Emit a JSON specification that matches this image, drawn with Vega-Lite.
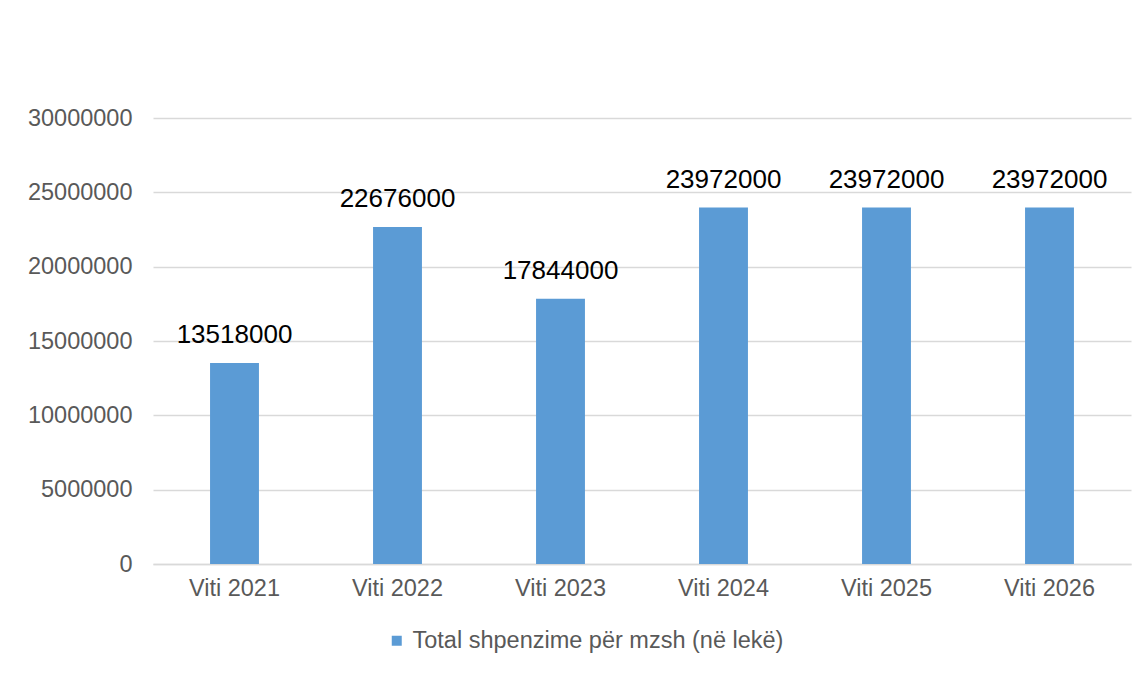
{
  "$schema": "https://vega.github.io/schema/vega-lite/v6.json",
  "width": 978,
  "height": 446,
  "autosize": {"type": "none"},
  "padding": {"left": 153, "top": 118, "right": 14, "bottom": 111},
  "background": "white",
  "config": {
    "view": {"stroke": null},
    "font": "Liberation Sans"
  },
  "data": {
    "values": [
      {"year": "Viti 2021", "value": 13518000, "series": "Total shpenzime për mzsh (në lekë)"},
      {"year": "Viti 2022", "value": 22676000, "series": "Total shpenzime për mzsh (në lekë)"},
      {"year": "Viti 2023", "value": 17844000, "series": "Total shpenzime për mzsh (në lekë)"},
      {"year": "Viti 2024", "value": 23972000, "series": "Total shpenzime për mzsh (në lekë)"},
      {"year": "Viti 2025", "value": 23972000, "series": "Total shpenzime për mzsh (në lekë)"},
      {"year": "Viti 2026", "value": 23972000, "series": "Total shpenzime për mzsh (në lekë)"}
    ]
  },
  "encoding": {
    "x": {
      "field": "year", "type": "nominal", "sort": null,
      "scale": {"paddingInner": 0.7, "paddingOuter": 0.35},
      "axis": {
        "title": null, "labelAngle": 0, "ticks": false,
        "domainColor": "#D9D9D9", "domainWidth": 1.5,
        "labelColor": "#595959", "labelFontSize": 23.5, "labelPadding": 12,
        "labelFont": "Liberation Sans"
      }
    },
    "y": {
      "field": "value", "type": "quantitative",
      "scale": {"domain": [0, 30000000], "nice": false},
      "axis": {
        "title": null, "values": [0, 5000000, 10000000, 15000000, 20000000, 25000000, 30000000],
        "format": "d", "domain": false, "ticks": false,
        "gridColor": "#D9D9D9", "gridWidth": 1.5,
        "labelColor": "#595959", "labelFontSize": 23.5, "labelPadding": 21,
        "labelFont": "Liberation Sans"
      }
    }
  },
  "layer": [
    {
      "mark": {"type": "bar", "color": "#5B9BD5"},
      "encoding": {
        "color": {
          "field": "series", "type": "nominal",
          "scale": {"range": ["#5B9BD5"]},
          "legend": {
            "title": null, "orient": "none", "legendX": 232, "legendY": 511,
            "symbolType": "square", "symbolSize": 100, "symbolStrokeWidth": 0,
            "labelFontSize": 23.5, "labelColor": "#595959", "labelFont": "Liberation Sans",
            "labelOffset": 4, "labelLimit": 0
          }
        }
      }
    },
    {
      "mark": {"type": "text", "baseline": "alphabetic", "dy": -20, "fontSize": 26, "color": "#000000", "font": "Liberation Sans"},
      "encoding": {
        "text": {"field": "value", "type": "quantitative", "format": "d"}
      }
    }
  ]
}
